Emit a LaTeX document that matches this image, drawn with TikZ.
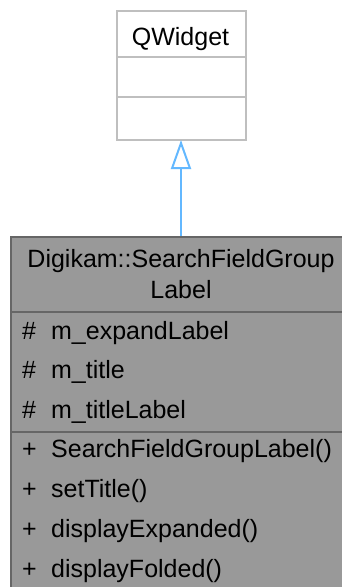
\documentclass[tikz,border=0pt]{standalone}
\usepackage{fontspec}
\setmainfont{Liberation Sans}
\usetikzlibrary{arrows.meta}
\definecolor{qborder}{HTML}{BFBFBF}
\definecolor{cfill}{HTML}{999999}
\definecolor{cborder}{HTML}{666666}
\definecolor{arrowc}{HTML}{63B8FF}
\tikzset{
  txt/.style={inner sep=0pt, font=\fontsize{25}{30}\selectfont, text=black},
  member/.style={txt, anchor=base west},
  sym/.style={}, 
}
\newcommand{\mrow}[2]{\makebox[29pt][l]{#1}#2}
\begin{document}
\begin{tikzpicture}[x=1pt,y=1pt]
\useasboundingbox (0,0) rectangle (342,-587);
\clip (0,0) rectangle (342,-587);
% QWidget
\node[draw=qborder, line width=2pt, fill=white, minimum width=129pt, minimum height=129pt, inner sep=0pt, anchor=north west] (qw) at (116,-10) {};
\draw[qborder, line width=2pt] (116,-57) -- (245,-57);
\draw[qborder, line width=2pt] (116,-97) -- (245,-97);
\node[txt, anchor=base] (qwt) at (180.5,-45) {QWidget};
% class box
\node[draw=cborder, line width=2pt, fill=cfill, minimum width=342pt, minimum height=380pt, inner sep=0pt, anchor=north west] (cls) at (10,-236) {};
\draw[cborder, line width=2pt] (10,-312) -- (352,-312);
\draw[cborder, line width=2pt] (10,-432) -- (352,-432);
\node[txt, anchor=base] (t1) at (181,-267) {Digikam::SearchFieldGroup};
\node[txt, anchor=base] (t2) at (181,-298) {Label};
\node[member] (a1) at (22,-339) {\mrow{\#}{m\_expandLabel}};
\node[member] (a2) at (22,-378) {\mrow{\#}{m\_title}};
\node[member] (a3) at (22,-418) {\mrow{\#}{m\_titleLabel}};
\node[member] (m1) at (22,-457) {\mrow{+}{SearchFieldGroupLabel()}};
\node[member] (m2) at (22,-497) {\mrow{+}{setTitle()}};
\node[member] (m3) at (22,-537) {\mrow{+}{displayExpanded()}};
\node[member] (m4) at (22,-577) {\mrow{+}{displayFolded()}};
% inheritance arrow
\draw[arrowc, line width=2pt, -{Triangle[open, width=20pt, length=29pt, line width=2pt]}] (181,-236) -- (181,-140);
\end{tikzpicture}
\end{document}
